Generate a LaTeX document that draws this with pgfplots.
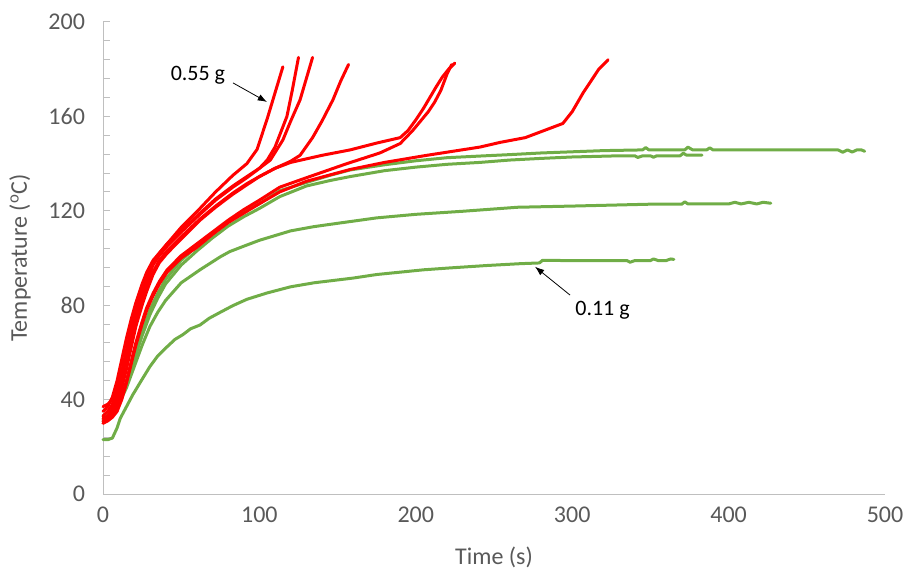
\documentclass[border=0pt]{standalone}
\usepackage{fontspec}
\setmainfont{Carlito}
\usepackage{pgfplots}
\pgfplotsset{compat=1.18}
\usetikzlibrary{arrows.meta}
\definecolor{exred}{RGB}{255,0,0}
\definecolor{exgreen}{RGB}{112,173,71}
\definecolor{axgray}{RGB}{191,191,191}
\definecolor{txtgray}{RGB}{89,89,89}
\begin{document}
\begin{tikzpicture}
\begin{axis}[
  scale only axis,
  width=586.5pt, height=354pt,
  xmin=0, xmax=500, ymin=0, ymax=200,
  axis lines=left,
  axis line style={-, draw=axgray, line width=0.75pt},
  xtick={0,100,...,500},
  ytick={0,40,...,200},
  minor y tick num=4,
  xtick style={draw=none},
  ytick style={draw=axgray, line width=0.75pt},
  minor tick style={draw=axgray, line width=0.75pt},
  tick align=inside,
  major tick length=5.25pt,
  minor tick length=5.25pt,
  /pgf/number format/assume math mode=true,
  ticklabel style={font=\fontsize{18}{20}\selectfont, text=txtgray},
  yticklabel style={xshift=-10pt},
  xticklabel style={yshift=-6pt},
  label style={font=\fontsize{18}{20}\selectfont, text=txtgray},
  xlabel={Time (s)},
  ylabel={Temperature (\textsuperscript{o}C)},
  xlabel style={at={(axis description cs:0.5,-0.1335)}, anchor=center},
  ylabel style={at={(axis description cs:-0.106,0.5)}, anchor=center, rotate=0},
  clip=false,
  every axis plot/.append style={line width=2.25pt, line join=round, line cap=round, no markers},
]
% green series
\addplot[exgreen] coordinates {(0,31) (5,33) (10,38) (15,47) (20,58) (25,69) (30,78) (35,85) (40,91) (50,99) (60,105) (70,110.5) (80,115.5) (90,119.5) (100,123) (113,128.5) (130,132) (145,135) (158,137.3) (180,139.5) (200,141.2) (220,142.5) (241,143.2) (260,143.8) (280,144.5) (300,145) (320,145.5) (345,145.8) (347,146.8) (349,145.8) (372,145.8) (374,147) (377,145.8) (386,145.8) (388,146.7) (390,145.8) (400,145.8) (470,145.8) (473,144.8) (476,145.8) (479,144.9) (482,145.8) (485,145.8) (487,145.2)};
\addplot[exgreen] coordinates {(0,33) (5,35) (10,39) (15,47) (20,57) (25,67) (30,76) (35,83) (40,89) (50,97) (60,103) (70,108.5) (80,113.5) (90,117.5) (100,121) (113,126) (130,130.5) (145,132.8) (158,134.5) (180,137) (200,138.5) (220,139.7) (241,140.5) (260,141.5) (280,142.2) (300,142.8) (330,143.3) (340,143.3) (342,142.6) (345,143.3) (350,143.3) (352,142.7) (354,143.3) (360,143.3) (369,143.3) (371,144.4) (373,143.6) (383,143.6)};
\addplot[exgreen] coordinates {(0,32) (5,34) (10,38) (15,45) (20,54) (25,63) (30,71) (35,77) (40,82) (50,89.5) (62,95) (75,100.5) (81,102.7) (90,105) (100,107.5) (120,111.5) (135,113.3) (150,114.7) (175,117) (200,118.5) (230,119.8) (265,121.5) (300,122) (350,122.8) (370,122.8) (372,123.8) (374,122.9) (400,122.9) (404,123.6) (408,122.9) (413,123.6) (418,122.9) (422,123.6) (427,123.2)};
\addplot[exgreen] coordinates {(0,23) (3,23) (6,23.7) (9,28) (11,32) (15,37) (19,42) (24,47.5) (30,54) (35,58.5) (41,62.4) (46,65.5) (51,67.5) (56,70) (62,71.6) (68,74.5) (75,77) (83,79.8) (92,82.5) (105,85.2) (120,87.8) (135,89.5) (145,90.3) (160,91.5) (175,93) (190,94) (205,95) (222,95.8) (245,96.8) (267,97.6) (279,97.9) (281,99) (300,98.9) (335,98.9) (337,98.2) (340,98.9) (350,98.9) (352,99.6) (355,98.9) (360,98.9) (363,99.6) (365,99.4)};
% red series
\addplot[exred] coordinates {(0,35) (3,37) (6,41) (9,48) (12,57) (15,66) (18,74) (21,81) (25,89) (28,94) (32,99) (41,106) (50,113) (62,121) (72,128) (83,135) (92,140) (98.5,146) (105,159) (110,170) (115,181)};
\addplot[exred] coordinates {(0,32) (3,33) (6,36) (9,41) (12,49) (15,58) (18,67) (21,75) (25,84) (28,90) (32,97) (36,101) (41,105) (50,111) (62,118.5) (72,124.5) (83,130) (92,134) (100,138) (105,141.5) (110,147) (117.6,160) (121,171) (125,185)};
\addplot[exred] coordinates {(0,33) (3,35) (6,38) (9,44) (12,52) (15,61) (18,70) (21,78) (25,86) (28,92) (32,98) (36,102) (41,106) (50,111.5) (62,119) (72,125) (83,130.5) (92,134.5) (100,138) (107,141.5) (115,150) (120,158) (126,167) (130,176) (134,185)};
\addplot[exred] coordinates {(0,31) (3,32) (6,34) (9,38) (12,45) (15,53) (18,62) (21,71) (25,80) (28,86) (32,93) (36,98) (41,102) (50,108) (62,116) (72,121.5) (83,127) (92,131) (100,134.5) (110,138) (120,141) (126,143.5) (134,151) (140,158) (147,167) (152,175) (157,182)};
\addplot[exred] coordinates {(0,37) (3,38) (6,40) (9,44) (12,50) (15,58) (18,66) (21,74) (25,82) (28,88) (32,94) (36,99) (41,103) (50,109) (62,116.5) (72,122) (83,127.5) (92,131.5) (100,134.5) (110,138) (120,140.5) (140,143.5) (158,145.8) (175,148.7) (190,151) (195,154) (200,158.5) (205,163.5) (209,168) (213,172.5) (217,176.7) (221,180) (225,182.6)};
\addplot[exred] coordinates {(0,30) (3,31) (6,33) (9,36) (12,41) (15,48) (18,56) (21,64) (25,73) (28,79) (32,85) (36,90) (41,95) (50,101) (60,106) (70,111) (80,116) (90,120.5) (100,124.5) (113,130) (130,134) (156,140) (177,144.5) (190,148.5) (198,154) (203,158) (208,162) (212,166) (216,171) (220,178) (223,182)};
\addplot[exred] coordinates {(0,30) (3,31) (6,32.5) (9,35) (12,40) (15,47) (18,55) (21,63) (25,72) (28,78) (32,84) (36,89) (41,94) (50,100) (60,104.5) (70,110) (80,115) (90,119) (100,123) (113,128) (130,132.5) (158,137.5) (180,140.5) (207,143.5) (241,147) (254,149) (270,151) (286,155) (294,157) (300,162) (307,170) (312,175) (317,180) (323,184)};
% annotations
\node[font=\fontsize{16.5}{18}\selectfont, text=black] at (axis cs:60.7,177.5) {0.55 g};
\draw[black, line width=0.6pt, -{Latex[length=7pt,width=5pt]}] (axis cs:83.1,174.2) -- (axis cs:104.9,166.1);
\node[font=\fontsize{16.5}{18}\selectfont, text=black] at (axis cs:319.4,78) {0.11 g};
\draw[black, line width=0.6pt, -{Latex[length=7pt,width=5pt]}] (axis cs:298.6,84.3) -- (axis cs:276.2,96.3);
\end{axis}
\pgfresetboundingbox
\path[use as bounding box] ([xshift=-77.25pt,yshift=-57pt]current axis.south west) rectangle ([xshift=14.25pt,yshift=16.5pt]current axis.north east);
\end{tikzpicture}
\end{document}
